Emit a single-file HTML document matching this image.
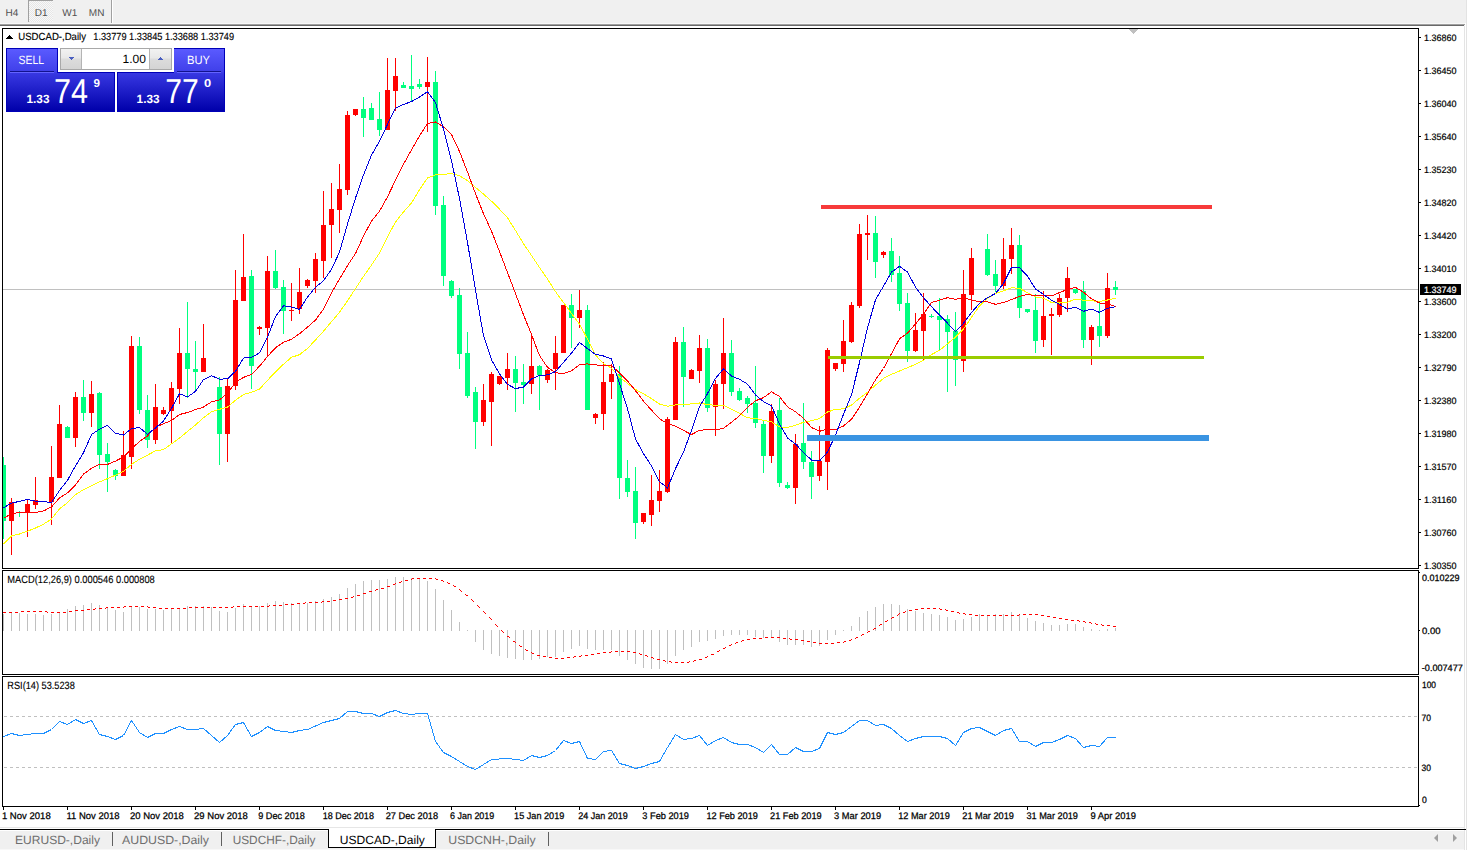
<!DOCTYPE html>
<html><head><meta charset="utf-8"><title>USDCAD-,Daily</title>
<style>html,body{margin:0;padding:0;width:1467px;height:850px;overflow:hidden;background:#f0f0f0;font-family:"Liberation Sans",sans-serif}svg{display:block}text{text-rendering:geometricPrecision}</style>
</head><body><svg width="1467" height="850" viewBox="0 0 1467 850" shape-rendering="crispEdges" font-family="Liberation Sans, sans-serif"><rect x="0" y="0" width="1467" height="23" fill="#f0f0f0"/>
<rect x="0" y="23" width="1465" height="1" fill="#f8f8f8"/>
<rect x="0" y="24" width="1465" height="1" fill="#a0a0a0"/>
<rect x="0" y="25" width="1464" height="1" fill="#696969"/>
<rect x="1465" y="23" width="1" height="4" fill="#ffffff"/>
<rect x="1466" y="0" width="1" height="850" fill="#e3e3e3"/>
<defs><pattern id="chk" width="2" height="2" patternUnits="userSpaceOnUse"><rect width="2" height="2" fill="#f8f8f8"/><rect width="1" height="1" fill="#e6e6e6"/><rect x="1" y="1" width="1" height="1" fill="#e6e6e6"/></pattern><linearGradient id="gtab" x1="0" y1="0" x2="0" y2="1"><stop offset="0" stop-color="#5a5aff"/><stop offset="1" stop-color="#3e3ee8"/></linearGradient><linearGradient id="gpan" x1="0" y1="0" x2="0" y2="1"><stop offset="0" stop-color="#3838e2"/><stop offset="1" stop-color="#0000aa"/></linearGradient><linearGradient id="gbtn" x1="0" y1="0" x2="0" y2="1"><stop offset="0" stop-color="#f2f2f2"/><stop offset="0.45" stop-color="#e8e8e8"/><stop offset="0.5" stop-color="#dcdcdc"/><stop offset="1" stop-color="#d4d4d4"/></linearGradient></defs>
<rect x="28" y="0" width="25" height="22" fill="url(#chk)"/>
<rect x="28" y="0" width="25" height="1" fill="#a0a0a0"/>
<rect x="28" y="0" width="1" height="22" fill="#a0a0a0"/>
<rect x="111" y="0" width="1" height="23" fill="#a0a0a0"/>
<rect x="112" y="0" width="1" height="23" fill="#ffffff"/>
<text x="5.6" y="16" font-size="10" fill="#505050" font-weight="normal" text-anchor="start">H4</text>
<text x="34.8" y="16" font-size="10" fill="#505050" font-weight="normal" text-anchor="start">D1</text>
<text x="62.2" y="16" font-size="10" fill="#505050" font-weight="normal" text-anchor="start">W1</text>
<text x="88.8" y="16" font-size="10" fill="#505050" font-weight="normal" text-anchor="start">MN</text>
<rect x="0" y="26" width="1464" height="801" fill="#ffffff"/>
<rect x="2" y="28" width="1417" height="1" fill="#000"/>
<rect x="2" y="568" width="1417" height="1" fill="#000"/>
<rect x="2" y="28" width="1" height="541" fill="#000"/>
<rect x="1418" y="28" width="1" height="541" fill="#000"/>
<rect x="2" y="570" width="1417" height="1" fill="#000"/>
<rect x="2" y="674" width="1417" height="1" fill="#000"/>
<rect x="2" y="570" width="1" height="105" fill="#000"/>
<rect x="1418" y="570" width="1" height="105" fill="#000"/>
<rect x="2" y="676" width="1417" height="1" fill="#000"/>
<rect x="2" y="806" width="1417" height="1" fill="#000"/>
<rect x="2" y="676" width="1" height="131" fill="#000"/>
<rect x="1418" y="676" width="1" height="131" fill="#000"/>
<polygon points="1129,29 1138,29 1133.5,34" fill="#c0c0c0"/>
<rect x="1419" y="37" width="2" height="1" fill="#000"/>
<text x="1424" y="40.5" font-size="9.2" fill="#000" font-weight="normal" text-anchor="start" textLength="32.5" lengthAdjust="spacingAndGlyphs" stroke="#000" stroke-width="0.2">1.36860</text>
<rect x="1419" y="70" width="2" height="1" fill="#000"/>
<text x="1424" y="73.5" font-size="9.2" fill="#000" font-weight="normal" text-anchor="start" textLength="32.5" lengthAdjust="spacingAndGlyphs" stroke="#000" stroke-width="0.2">1.36450</text>
<rect x="1419" y="103" width="2" height="1" fill="#000"/>
<text x="1424" y="106.5" font-size="9.2" fill="#000" font-weight="normal" text-anchor="start" textLength="32.5" lengthAdjust="spacingAndGlyphs" stroke="#000" stroke-width="0.2">1.36040</text>
<rect x="1419" y="136" width="2" height="1" fill="#000"/>
<text x="1424" y="139.5" font-size="9.2" fill="#000" font-weight="normal" text-anchor="start" textLength="32.5" lengthAdjust="spacingAndGlyphs" stroke="#000" stroke-width="0.2">1.35640</text>
<rect x="1419" y="169" width="2" height="1" fill="#000"/>
<text x="1424" y="172.5" font-size="9.2" fill="#000" font-weight="normal" text-anchor="start" textLength="32.5" lengthAdjust="spacingAndGlyphs" stroke="#000" stroke-width="0.2">1.35230</text>
<rect x="1419" y="202" width="2" height="1" fill="#000"/>
<text x="1424" y="205.5" font-size="9.2" fill="#000" font-weight="normal" text-anchor="start" textLength="32.5" lengthAdjust="spacingAndGlyphs" stroke="#000" stroke-width="0.2">1.34820</text>
<rect x="1419" y="235" width="2" height="1" fill="#000"/>
<text x="1424" y="238.5" font-size="9.2" fill="#000" font-weight="normal" text-anchor="start" textLength="32.5" lengthAdjust="spacingAndGlyphs" stroke="#000" stroke-width="0.2">1.34420</text>
<rect x="1419" y="268" width="2" height="1" fill="#000"/>
<text x="1424" y="271.5" font-size="9.2" fill="#000" font-weight="normal" text-anchor="start" textLength="32.5" lengthAdjust="spacingAndGlyphs" stroke="#000" stroke-width="0.2">1.34010</text>
<rect x="1419" y="301" width="2" height="1" fill="#000"/>
<text x="1424" y="304.5" font-size="9.2" fill="#000" font-weight="normal" text-anchor="start" textLength="32.5" lengthAdjust="spacingAndGlyphs" stroke="#000" stroke-width="0.2">1.33600</text>
<rect x="1419" y="334" width="2" height="1" fill="#000"/>
<text x="1424" y="337.5" font-size="9.2" fill="#000" font-weight="normal" text-anchor="start" textLength="32.5" lengthAdjust="spacingAndGlyphs" stroke="#000" stroke-width="0.2">1.33200</text>
<rect x="1419" y="367" width="2" height="1" fill="#000"/>
<text x="1424" y="370.5" font-size="9.2" fill="#000" font-weight="normal" text-anchor="start" textLength="32.5" lengthAdjust="spacingAndGlyphs" stroke="#000" stroke-width="0.2">1.32790</text>
<rect x="1419" y="400" width="2" height="1" fill="#000"/>
<text x="1424" y="403.5" font-size="9.2" fill="#000" font-weight="normal" text-anchor="start" textLength="32.5" lengthAdjust="spacingAndGlyphs" stroke="#000" stroke-width="0.2">1.32380</text>
<rect x="1419" y="433" width="2" height="1" fill="#000"/>
<text x="1424" y="436.5" font-size="9.2" fill="#000" font-weight="normal" text-anchor="start" textLength="32.5" lengthAdjust="spacingAndGlyphs" stroke="#000" stroke-width="0.2">1.31980</text>
<rect x="1419" y="466" width="2" height="1" fill="#000"/>
<text x="1424" y="469.5" font-size="9.2" fill="#000" font-weight="normal" text-anchor="start" textLength="32.5" lengthAdjust="spacingAndGlyphs" stroke="#000" stroke-width="0.2">1.31570</text>
<rect x="1419" y="499" width="2" height="1" fill="#000"/>
<text x="1424" y="502.5" font-size="9.2" fill="#000" font-weight="normal" text-anchor="start" textLength="32.5" lengthAdjust="spacingAndGlyphs" stroke="#000" stroke-width="0.2">1.31160</text>
<rect x="1419" y="532" width="2" height="1" fill="#000"/>
<text x="1424" y="535.5" font-size="9.2" fill="#000" font-weight="normal" text-anchor="start" textLength="32.5" lengthAdjust="spacingAndGlyphs" stroke="#000" stroke-width="0.2">1.30760</text>
<rect x="1419" y="565" width="2" height="1" fill="#000"/>
<text x="1424" y="568.5" font-size="9.2" fill="#000" font-weight="normal" text-anchor="start" textLength="32.5" lengthAdjust="spacingAndGlyphs" stroke="#000" stroke-width="0.2">1.30350</text>
<rect x="3" y="289" width="1415" height="1" fill="#c0c0c0"/>
<rect x="3" y="457" width="1" height="82" fill="#00ff7f"/>
<rect x="3" y="465" width="3" height="56" fill="#00ff7f"/>
<rect x="11" y="498" width="1" height="57" fill="#ff0000"/>
<rect x="9" y="502" width="5" height="19" fill="#ff0000"/>
<rect x="19" y="511" width="1" height="6" fill="#00ff7f"/>
<rect x="17" y="512" width="5" height="1" fill="#00ff7f"/>
<rect x="27" y="499" width="1" height="38" fill="#ff0000"/>
<rect x="25" y="504" width="5" height="8" fill="#ff0000"/>
<rect x="35" y="477" width="1" height="32" fill="#ff0000"/>
<rect x="33" y="500" width="5" height="5" fill="#ff0000"/>
<rect x="51" y="446" width="1" height="79" fill="#ff0000"/>
<rect x="49" y="477" width="5" height="25" fill="#ff0000"/>
<rect x="59" y="405" width="1" height="73" fill="#ff0000"/>
<rect x="57" y="424" width="5" height="54" fill="#ff0000"/>
<rect x="67" y="426" width="1" height="12" fill="#00ff7f"/>
<rect x="65" y="427" width="5" height="11" fill="#00ff7f"/>
<rect x="75" y="392" width="1" height="55" fill="#ff0000"/>
<rect x="73" y="397" width="5" height="41" fill="#ff0000"/>
<rect x="83" y="380" width="1" height="41" fill="#00ff7f"/>
<rect x="81" y="397" width="5" height="16" fill="#00ff7f"/>
<rect x="91" y="381" width="1" height="46" fill="#ff0000"/>
<rect x="89" y="394" width="5" height="19" fill="#ff0000"/>
<rect x="99" y="392" width="1" height="77" fill="#00ff7f"/>
<rect x="97" y="393" width="5" height="62" fill="#00ff7f"/>
<rect x="107" y="443" width="1" height="49" fill="#00ff7f"/>
<rect x="105" y="454" width="5" height="8" fill="#00ff7f"/>
<rect x="115" y="469" width="1" height="11" fill="#00ff7f"/>
<rect x="113" y="470" width="5" height="6" fill="#00ff7f"/>
<rect x="123" y="431" width="1" height="45" fill="#ff0000"/>
<rect x="121" y="455" width="5" height="21" fill="#ff0000"/>
<rect x="131" y="336" width="1" height="133" fill="#ff0000"/>
<rect x="129" y="346" width="5" height="111" fill="#ff0000"/>
<rect x="139" y="337" width="1" height="77" fill="#00ff7f"/>
<rect x="137" y="346" width="5" height="64" fill="#00ff7f"/>
<rect x="147" y="395" width="1" height="53" fill="#00ff7f"/>
<rect x="145" y="410" width="5" height="30" fill="#00ff7f"/>
<rect x="155" y="384" width="1" height="60" fill="#ff0000"/>
<rect x="153" y="407" width="5" height="33" fill="#ff0000"/>
<rect x="163" y="407" width="1" height="8" fill="#ff0000"/>
<rect x="161" y="410" width="5" height="4" fill="#ff0000"/>
<rect x="171" y="382" width="1" height="61" fill="#ff0000"/>
<rect x="169" y="388" width="5" height="23" fill="#ff0000"/>
<rect x="179" y="328" width="1" height="76" fill="#ff0000"/>
<rect x="177" y="353" width="5" height="36" fill="#ff0000"/>
<rect x="187" y="302" width="1" height="96" fill="#00ff7f"/>
<rect x="185" y="353" width="5" height="16" fill="#00ff7f"/>
<rect x="195" y="341" width="1" height="49" fill="#00ff7f"/>
<rect x="193" y="369" width="5" height="3" fill="#00ff7f"/>
<rect x="203" y="324" width="1" height="48" fill="#ff0000"/>
<rect x="201" y="358" width="5" height="14" fill="#ff0000"/>
<rect x="219" y="377" width="1" height="88" fill="#00ff7f"/>
<rect x="217" y="387" width="5" height="47" fill="#00ff7f"/>
<rect x="227" y="378" width="1" height="84" fill="#ff0000"/>
<rect x="225" y="386" width="5" height="48" fill="#ff0000"/>
<rect x="235" y="270" width="1" height="120" fill="#ff0000"/>
<rect x="233" y="300" width="5" height="86" fill="#ff0000"/>
<rect x="243" y="234" width="1" height="67" fill="#ff0000"/>
<rect x="241" y="277" width="5" height="24" fill="#ff0000"/>
<rect x="251" y="270" width="1" height="119" fill="#00ff7f"/>
<rect x="249" y="276" width="5" height="90" fill="#00ff7f"/>
<rect x="259" y="326" width="1" height="9" fill="#ff0000"/>
<rect x="257" y="327" width="5" height="2" fill="#ff0000"/>
<rect x="267" y="256" width="1" height="101" fill="#ff0000"/>
<rect x="265" y="271" width="5" height="57" fill="#ff0000"/>
<rect x="275" y="250" width="1" height="39" fill="#00ff7f"/>
<rect x="273" y="271" width="5" height="17" fill="#00ff7f"/>
<rect x="283" y="280" width="1" height="54" fill="#00ff7f"/>
<rect x="281" y="287" width="5" height="24" fill="#00ff7f"/>
<rect x="291" y="283" width="1" height="38" fill="#ff0000"/>
<rect x="289" y="310" width="5" height="1" fill="#ff0000"/>
<rect x="299" y="268" width="1" height="46" fill="#ff0000"/>
<rect x="297" y="292" width="5" height="17" fill="#ff0000"/>
<rect x="307" y="279" width="1" height="9" fill="#ff0000"/>
<rect x="305" y="280" width="5" height="6" fill="#ff0000"/>
<rect x="315" y="253" width="1" height="40" fill="#ff0000"/>
<rect x="313" y="259" width="5" height="22" fill="#ff0000"/>
<rect x="323" y="191" width="1" height="87" fill="#ff0000"/>
<rect x="321" y="225" width="5" height="36" fill="#ff0000"/>
<rect x="331" y="183" width="1" height="75" fill="#ff0000"/>
<rect x="329" y="209" width="5" height="16" fill="#ff0000"/>
<rect x="339" y="164" width="1" height="69" fill="#ff0000"/>
<rect x="337" y="189" width="5" height="21" fill="#ff0000"/>
<rect x="347" y="111" width="1" height="84" fill="#ff0000"/>
<rect x="345" y="115" width="5" height="75" fill="#ff0000"/>
<rect x="355" y="109" width="1" height="7" fill="#ff0000"/>
<rect x="353" y="109" width="5" height="6" fill="#ff0000"/>
<rect x="363" y="97" width="1" height="40" fill="#00ff7f"/>
<rect x="361" y="109" width="5" height="9" fill="#00ff7f"/>
<rect x="371" y="103" width="1" height="17" fill="#00ff7f"/>
<rect x="369" y="108" width="5" height="12" fill="#00ff7f"/>
<rect x="379" y="92" width="1" height="44" fill="#00ff7f"/>
<rect x="377" y="119" width="5" height="11" fill="#00ff7f"/>
<rect x="387" y="58" width="1" height="72" fill="#ff0000"/>
<rect x="385" y="90" width="5" height="40" fill="#ff0000"/>
<rect x="395" y="58" width="1" height="53" fill="#ff0000"/>
<rect x="393" y="76" width="5" height="15" fill="#ff0000"/>
<rect x="403" y="82" width="1" height="6" fill="#00ff7f"/>
<rect x="401" y="85" width="5" height="3" fill="#00ff7f"/>
<rect x="411" y="55" width="1" height="46" fill="#00ff7f"/>
<rect x="409" y="86" width="5" height="3" fill="#00ff7f"/>
<rect x="419" y="79" width="1" height="10" fill="#00ff7f"/>
<rect x="417" y="84" width="5" height="3" fill="#00ff7f"/>
<rect x="427" y="57" width="1" height="75" fill="#ff0000"/>
<rect x="425" y="82" width="5" height="5" fill="#ff0000"/>
<rect x="435" y="71" width="1" height="144" fill="#00ff7f"/>
<rect x="433" y="82" width="5" height="124" fill="#00ff7f"/>
<rect x="443" y="196" width="1" height="90" fill="#00ff7f"/>
<rect x="441" y="205" width="5" height="71" fill="#00ff7f"/>
<rect x="451" y="280" width="1" height="18" fill="#00ff7f"/>
<rect x="449" y="281" width="5" height="15" fill="#00ff7f"/>
<rect x="459" y="288" width="1" height="81" fill="#00ff7f"/>
<rect x="457" y="295" width="5" height="59" fill="#00ff7f"/>
<rect x="467" y="332" width="1" height="66" fill="#00ff7f"/>
<rect x="465" y="353" width="5" height="43" fill="#00ff7f"/>
<rect x="475" y="387" width="1" height="62" fill="#00ff7f"/>
<rect x="473" y="392" width="5" height="30" fill="#00ff7f"/>
<rect x="483" y="384" width="1" height="42" fill="#ff0000"/>
<rect x="481" y="400" width="5" height="22" fill="#ff0000"/>
<rect x="491" y="372" width="1" height="74" fill="#ff0000"/>
<rect x="489" y="374" width="5" height="28" fill="#ff0000"/>
<rect x="499" y="376" width="1" height="9" fill="#ff0000"/>
<rect x="497" y="376" width="5" height="8" fill="#ff0000"/>
<rect x="507" y="353" width="1" height="37" fill="#ff0000"/>
<rect x="505" y="369" width="5" height="9" fill="#ff0000"/>
<rect x="515" y="356" width="1" height="56" fill="#00ff7f"/>
<rect x="513" y="369" width="5" height="14" fill="#00ff7f"/>
<rect x="523" y="364" width="1" height="40" fill="#00ff7f"/>
<rect x="521" y="382" width="5" height="3" fill="#00ff7f"/>
<rect x="531" y="334" width="1" height="60" fill="#ff0000"/>
<rect x="529" y="366" width="5" height="18" fill="#ff0000"/>
<rect x="539" y="365" width="1" height="45" fill="#00ff7f"/>
<rect x="537" y="366" width="5" height="9" fill="#00ff7f"/>
<rect x="547" y="369" width="1" height="14" fill="#ff0000"/>
<rect x="545" y="370" width="5" height="10" fill="#ff0000"/>
<rect x="555" y="336" width="1" height="54" fill="#ff0000"/>
<rect x="553" y="353" width="5" height="16" fill="#ff0000"/>
<rect x="563" y="305" width="1" height="48" fill="#ff0000"/>
<rect x="561" y="305" width="5" height="48" fill="#ff0000"/>
<rect x="571" y="294" width="1" height="54" fill="#00ff7f"/>
<rect x="569" y="305" width="5" height="13" fill="#00ff7f"/>
<rect x="579" y="290" width="1" height="38" fill="#ff0000"/>
<rect x="577" y="310" width="5" height="8" fill="#ff0000"/>
<rect x="587" y="305" width="1" height="105" fill="#00ff7f"/>
<rect x="585" y="310" width="5" height="100" fill="#00ff7f"/>
<rect x="595" y="413" width="1" height="11" fill="#ff0000"/>
<rect x="593" y="414" width="5" height="4" fill="#ff0000"/>
<rect x="603" y="362" width="1" height="68" fill="#ff0000"/>
<rect x="601" y="382" width="5" height="32" fill="#ff0000"/>
<rect x="611" y="364" width="1" height="35" fill="#ff0000"/>
<rect x="609" y="374" width="5" height="8" fill="#ff0000"/>
<rect x="619" y="366" width="1" height="133" fill="#00ff7f"/>
<rect x="617" y="374" width="5" height="104" fill="#00ff7f"/>
<rect x="627" y="460" width="1" height="37" fill="#00ff7f"/>
<rect x="625" y="478" width="5" height="14" fill="#00ff7f"/>
<rect x="635" y="467" width="1" height="72" fill="#00ff7f"/>
<rect x="633" y="491" width="5" height="32" fill="#00ff7f"/>
<rect x="643" y="513" width="1" height="11" fill="#ff0000"/>
<rect x="641" y="513" width="5" height="9" fill="#ff0000"/>
<rect x="651" y="475" width="1" height="51" fill="#ff0000"/>
<rect x="649" y="500" width="5" height="15" fill="#ff0000"/>
<rect x="659" y="470" width="1" height="42" fill="#ff0000"/>
<rect x="657" y="491" width="5" height="10" fill="#ff0000"/>
<rect x="667" y="417" width="1" height="76" fill="#ff0000"/>
<rect x="665" y="419" width="5" height="73" fill="#ff0000"/>
<rect x="675" y="337" width="1" height="83" fill="#ff0000"/>
<rect x="673" y="342" width="5" height="78" fill="#ff0000"/>
<rect x="683" y="327" width="1" height="80" fill="#00ff7f"/>
<rect x="681" y="342" width="5" height="35" fill="#00ff7f"/>
<rect x="691" y="369" width="1" height="10" fill="#ff0000"/>
<rect x="689" y="370" width="5" height="9" fill="#ff0000"/>
<rect x="699" y="335" width="1" height="48" fill="#ff0000"/>
<rect x="697" y="348" width="5" height="23" fill="#ff0000"/>
<rect x="707" y="339" width="1" height="73" fill="#00ff7f"/>
<rect x="705" y="348" width="5" height="60" fill="#00ff7f"/>
<rect x="715" y="380" width="1" height="56" fill="#ff0000"/>
<rect x="713" y="384" width="5" height="23" fill="#ff0000"/>
<rect x="723" y="318" width="1" height="91" fill="#ff0000"/>
<rect x="721" y="353" width="5" height="31" fill="#ff0000"/>
<rect x="731" y="340" width="1" height="56" fill="#00ff7f"/>
<rect x="729" y="353" width="5" height="39" fill="#00ff7f"/>
<rect x="739" y="388" width="1" height="13" fill="#00ff7f"/>
<rect x="737" y="391" width="5" height="9" fill="#00ff7f"/>
<rect x="747" y="396" width="1" height="17" fill="#00ff7f"/>
<rect x="745" y="398" width="5" height="6" fill="#00ff7f"/>
<rect x="755" y="366" width="1" height="62" fill="#00ff7f"/>
<rect x="753" y="403" width="5" height="20" fill="#00ff7f"/>
<rect x="763" y="421" width="1" height="52" fill="#00ff7f"/>
<rect x="761" y="424" width="5" height="32" fill="#00ff7f"/>
<rect x="771" y="404" width="1" height="59" fill="#ff0000"/>
<rect x="769" y="411" width="5" height="45" fill="#ff0000"/>
<rect x="779" y="398" width="1" height="89" fill="#00ff7f"/>
<rect x="777" y="410" width="5" height="73" fill="#00ff7f"/>
<rect x="787" y="482" width="1" height="7" fill="#00ff7f"/>
<rect x="785" y="485" width="5" height="3" fill="#00ff7f"/>
<rect x="795" y="434" width="1" height="70" fill="#ff0000"/>
<rect x="793" y="444" width="5" height="44" fill="#ff0000"/>
<rect x="803" y="403" width="1" height="66" fill="#00ff7f"/>
<rect x="801" y="443" width="5" height="19" fill="#00ff7f"/>
<rect x="811" y="451" width="1" height="48" fill="#00ff7f"/>
<rect x="809" y="462" width="5" height="15" fill="#00ff7f"/>
<rect x="819" y="426" width="1" height="55" fill="#ff0000"/>
<rect x="817" y="461" width="5" height="15" fill="#ff0000"/>
<rect x="827" y="348" width="1" height="142" fill="#ff0000"/>
<rect x="825" y="350" width="5" height="112" fill="#ff0000"/>
<rect x="835" y="363" width="1" height="8" fill="#ff0000"/>
<rect x="833" y="363" width="5" height="6" fill="#ff0000"/>
<rect x="843" y="320" width="1" height="52" fill="#ff0000"/>
<rect x="841" y="341" width="5" height="23" fill="#ff0000"/>
<rect x="851" y="302" width="1" height="41" fill="#ff0000"/>
<rect x="849" y="305" width="5" height="37" fill="#ff0000"/>
<rect x="859" y="224" width="1" height="84" fill="#ff0000"/>
<rect x="857" y="234" width="5" height="72" fill="#ff0000"/>
<rect x="867" y="215" width="1" height="45" fill="#ff0000"/>
<rect x="865" y="233" width="5" height="2" fill="#ff0000"/>
<rect x="875" y="216" width="1" height="62" fill="#00ff7f"/>
<rect x="873" y="233" width="5" height="29" fill="#00ff7f"/>
<rect x="883" y="251" width="1" height="7" fill="#ff0000"/>
<rect x="881" y="252" width="5" height="3" fill="#ff0000"/>
<rect x="891" y="238" width="1" height="44" fill="#00ff7f"/>
<rect x="889" y="251" width="5" height="24" fill="#00ff7f"/>
<rect x="899" y="256" width="1" height="55" fill="#00ff7f"/>
<rect x="897" y="273" width="5" height="31" fill="#00ff7f"/>
<rect x="907" y="293" width="1" height="69" fill="#00ff7f"/>
<rect x="905" y="303" width="5" height="48" fill="#00ff7f"/>
<rect x="915" y="313" width="1" height="39" fill="#ff0000"/>
<rect x="913" y="330" width="5" height="21" fill="#ff0000"/>
<rect x="923" y="293" width="1" height="67" fill="#ff0000"/>
<rect x="921" y="314" width="5" height="17" fill="#ff0000"/>
<rect x="931" y="314" width="1" height="4" fill="#00ff7f"/>
<rect x="929" y="316" width="5" height="1" fill="#00ff7f"/>
<rect x="939" y="298" width="1" height="52" fill="#00ff7f"/>
<rect x="937" y="316" width="5" height="4" fill="#00ff7f"/>
<rect x="947" y="315" width="1" height="77" fill="#00ff7f"/>
<rect x="945" y="319" width="5" height="13" fill="#00ff7f"/>
<rect x="955" y="312" width="1" height="74" fill="#00ff7f"/>
<rect x="953" y="331" width="5" height="29" fill="#00ff7f"/>
<rect x="963" y="270" width="1" height="102" fill="#ff0000"/>
<rect x="961" y="294" width="5" height="67" fill="#ff0000"/>
<rect x="971" y="248" width="1" height="62" fill="#ff0000"/>
<rect x="969" y="258" width="5" height="37" fill="#ff0000"/>
<rect x="987" y="234" width="1" height="42" fill="#00ff7f"/>
<rect x="985" y="249" width="5" height="26" fill="#00ff7f"/>
<rect x="995" y="260" width="1" height="32" fill="#00ff7f"/>
<rect x="993" y="274" width="5" height="12" fill="#00ff7f"/>
<rect x="1003" y="238" width="1" height="51" fill="#ff0000"/>
<rect x="1001" y="259" width="5" height="27" fill="#ff0000"/>
<rect x="1011" y="228" width="1" height="46" fill="#ff0000"/>
<rect x="1009" y="245" width="5" height="14" fill="#ff0000"/>
<rect x="1019" y="235" width="1" height="83" fill="#00ff7f"/>
<rect x="1017" y="245" width="5" height="63" fill="#00ff7f"/>
<rect x="1027" y="309" width="1" height="4" fill="#00ff7f"/>
<rect x="1025" y="309" width="5" height="3" fill="#00ff7f"/>
<rect x="1035" y="294" width="1" height="59" fill="#00ff7f"/>
<rect x="1033" y="310" width="5" height="31" fill="#00ff7f"/>
<rect x="1043" y="291" width="1" height="56" fill="#ff0000"/>
<rect x="1041" y="316" width="5" height="24" fill="#ff0000"/>
<rect x="1051" y="308" width="1" height="47" fill="#ff0000"/>
<rect x="1049" y="314" width="5" height="2" fill="#ff0000"/>
<rect x="1059" y="294" width="1" height="23" fill="#ff0000"/>
<rect x="1057" y="298" width="5" height="17" fill="#ff0000"/>
<rect x="1067" y="267" width="1" height="45" fill="#ff0000"/>
<rect x="1065" y="278" width="5" height="20" fill="#ff0000"/>
<rect x="1075" y="289" width="1" height="5" fill="#00ff7f"/>
<rect x="1073" y="289" width="5" height="4" fill="#00ff7f"/>
<rect x="1083" y="281" width="1" height="67" fill="#00ff7f"/>
<rect x="1081" y="291" width="5" height="49" fill="#00ff7f"/>
<rect x="1091" y="325" width="1" height="40" fill="#ff0000"/>
<rect x="1089" y="327" width="5" height="13" fill="#ff0000"/>
<rect x="1099" y="303" width="1" height="44" fill="#00ff7f"/>
<rect x="1097" y="326" width="5" height="10" fill="#00ff7f"/>
<rect x="1107" y="273" width="1" height="65" fill="#ff0000"/>
<rect x="1105" y="288" width="5" height="48" fill="#ff0000"/>
<rect x="1115" y="281" width="1" height="14" fill="#00ff7f"/>
<rect x="1113" y="287" width="5" height="3" fill="#00ff7f"/>
<polyline points="3.5,544.0 11.5,535.9 19.5,534.0 27.5,531.2 35.5,528.0 43.5,524.2 51.5,519.0 59.5,508.8 67.5,502.6 75.5,494.7 83.5,489.6 91.5,485.6 99.5,481.9 107.5,478.6 115.5,475.1 123.5,471.3 131.5,464.4 139.5,459.2 147.5,455.1 155.5,450.9 163.5,449.6 171.5,443.9 179.5,438.1 187.5,431.5 195.5,424.9 203.5,417.8 211.5,411.7 219.5,409.3 227.5,407.1 235.5,400.2 243.5,394.5 251.5,392.3 259.5,389.1 267.5,380.3 275.5,372.0 283.5,364.2 291.5,357.3 299.5,354.7 307.5,348.5 315.5,339.9 323.5,331.2 331.5,321.7 339.5,312.2 347.5,300.9 355.5,288.5 363.5,276.4 371.5,265.0 379.5,253.1 387.5,236.8 395.5,222.0 403.5,211.9 411.5,203.0 419.5,189.7 427.5,178.0 435.5,174.9 443.5,174.3 451.5,173.6 459.5,175.7 467.5,180.7 475.5,187.4 483.5,194.1 491.5,201.2 499.5,209.2 507.5,217.8 515.5,230.5 523.5,243.7 531.5,255.5 539.5,267.6 547.5,279.0 555.5,291.6 563.5,302.5 571.5,313.4 579.5,324.0 587.5,339.3 595.5,355.1 603.5,363.5 611.5,368.2 619.5,376.9 627.5,383.4 635.5,389.5 643.5,393.8 651.5,398.6 659.5,404.1 667.5,406.2 675.5,404.9 683.5,404.6 691.5,403.9 699.5,403.0 707.5,404.6 715.5,405.3 723.5,405.3 731.5,409.4 739.5,413.3 747.5,417.8 755.5,418.4 763.5,420.4 771.5,421.8 779.5,427.0 787.5,427.5 795.5,425.2 803.5,422.3 811.5,420.6 819.5,418.7 827.5,412.0 835.5,409.3 843.5,408.9 851.5,405.1 859.5,398.2 867.5,392.4 875.5,385.1 883.5,378.4 891.5,374.3 899.5,371.0 907.5,367.7 915.5,364.4 923.5,360.3 931.5,354.5 939.5,350.4 947.5,343.8 955.5,337.2 963.5,329.0 971.5,317.4 979.5,305.9 987.5,298.5 995.5,293.5 1003.5,290.8 1011.5,287.7 1019.5,288.4 1027.5,292.6 1035.5,296.9 1043.5,298.3 1051.5,302.5 1059.5,303.0 1067.5,302.1 1075.5,299.2 1083.5,300.2 1091.5,300.7 1099.5,301.6 1107.5,300.0 1115.5,298.3" fill="none" stroke="#ffff00" stroke-width="1"/>
<polyline points="3.5,518.2 11.5,513.9 19.5,512.4 27.5,512.4 35.5,512.4 43.5,511.0 51.5,506.9 59.5,497.9 67.5,492.9 75.5,484.8 83.5,474.1 91.5,468.4 99.5,464.2 107.5,464.4 115.5,461.1 123.5,457.0 131.5,449.0 139.5,441.4 147.5,436.0 155.5,427.0 163.5,423.8 171.5,420.5 179.5,414.5 187.5,412.5 195.5,409.6 203.5,407.1 211.5,401.8 219.5,399.9 227.5,393.4 235.5,382.4 243.5,377.4 251.5,374.3 259.5,366.2 267.5,356.5 275.5,347.8 283.5,342.3 291.5,339.2 299.5,333.7 307.5,327.1 315.5,320.1 323.5,309.0 331.5,292.9 339.5,278.9 347.5,265.6 355.5,253.6 363.5,235.9 371.5,221.1 379.5,211.1 387.5,196.9 395.5,180.1 403.5,164.3 411.5,149.8 419.5,136.0 427.5,123.4 435.5,122.0 443.5,126.8 451.5,134.4 459.5,151.5 467.5,172.0 475.5,193.7 483.5,213.7 491.5,231.1 499.5,251.6 507.5,272.5 515.5,293.6 523.5,314.7 531.5,334.6 539.5,355.6 547.5,367.3 555.5,372.8 563.5,373.4 571.5,370.9 579.5,364.7 587.5,363.9 595.5,364.9 603.5,365.4 611.5,365.3 619.5,373.1 627.5,380.9 635.5,390.7 643.5,401.2 651.5,410.1 659.5,418.8 667.5,423.5 675.5,426.1 683.5,430.4 691.5,434.6 699.5,430.2 707.5,429.8 715.5,429.9 723.5,428.4 731.5,422.3 739.5,415.7 747.5,407.2 755.5,400.8 763.5,397.6 771.5,391.9 779.5,396.5 787.5,406.9 795.5,411.7 803.5,418.3 811.5,427.5 819.5,431.3 827.5,428.9 835.5,429.6 843.5,426.0 851.5,419.2 859.5,407.1 867.5,393.6 875.5,379.8 883.5,368.5 891.5,353.7 899.5,338.8 907.5,333.1 915.5,324.0 923.5,314.1 931.5,302.6 939.5,300.1 947.5,297.7 955.5,299.3 963.5,297.7 971.5,300.1 979.5,301.8 987.5,301.8 995.5,304.3 1003.5,302.5 1011.5,299.6 1019.5,296.4 1027.5,294.3 1035.5,295.9 1043.5,295.9 1051.5,295.9 1059.5,292.6 1067.5,289.4 1075.5,287.5 1083.5,292.2 1091.5,298.8 1099.5,303.0 1107.5,303.5 1115.5,306.6" fill="none" stroke="#ff0000" stroke-width="1"/>
<polyline points="3.5,507.7 11.5,503.2 19.5,501.3 27.5,499.4 35.5,501.1 43.5,501.6 51.5,502.6 59.5,490.4 67.5,480.3 75.5,465.9 83.5,452.6 91.5,434.6 99.5,429.1 107.5,425.3 115.5,433.2 123.5,435.1 131.5,428.6 139.5,427.5 147.5,434.3 155.5,427.9 163.5,421.0 171.5,408.4 179.5,393.7 187.5,396.9 195.5,391.4 203.5,379.6 211.5,375.7 219.5,379.1 227.5,378.9 235.5,371.3 243.5,358.1 251.5,357.3 259.5,352.9 267.5,337.3 275.5,316.4 283.5,305.7 291.5,307.1 299.5,309.3 307.5,297.0 315.5,287.3 323.5,280.7 331.5,269.4 339.5,252.0 347.5,224.1 355.5,198.0 363.5,174.9 371.5,155.0 379.5,141.4 387.5,124.4 395.5,108.3 403.5,104.4 411.5,101.6 419.5,97.1 427.5,91.7 435.5,102.6 443.5,129.1 451.5,160.6 459.5,198.6 467.5,242.4 475.5,290.3 483.5,335.7 491.5,359.7 499.5,374.0 507.5,384.4 515.5,388.6 523.5,387.0 531.5,379.0 539.5,375.4 547.5,374.9 555.5,371.6 563.5,362.4 571.5,353.1 579.5,342.4 587.5,348.7 595.5,354.3 603.5,356.0 611.5,359.0 619.5,383.7 627.5,408.6 635.5,439.0 643.5,453.7 651.5,466.0 659.5,481.6 667.5,488.0 675.5,468.6 683.5,452.1 691.5,430.3 699.5,406.7 707.5,393.6 715.5,378.3 723.5,368.9 731.5,376.0 739.5,379.3 747.5,384.1 755.5,394.9 763.5,401.7 771.5,405.6 779.5,424.1 787.5,437.9 795.5,444.1 803.5,452.4 811.5,460.1 819.5,460.9 827.5,452.1 835.5,435.0 843.5,414.3 851.5,394.7 859.5,362.5 867.5,327.9 875.5,299.8 883.5,286.1 891.5,272.1 899.5,266.4 907.5,272.1 915.5,287.0 923.5,297.7 931.5,306.7 939.5,315.0 947.5,323.2 955.5,331.4 963.5,323.2 971.5,312.5 979.5,303.4 987.5,297.7 995.5,293.5 1003.5,283.5 1011.5,267.5 1019.5,267.7 1027.5,276.2 1035.5,288.9 1043.5,294.5 1051.5,300.2 1059.5,304.4 1067.5,309.1 1075.5,307.2 1083.5,311.3 1091.5,309.1 1099.5,312.4 1107.5,308.2 1115.5,306.8" fill="none" stroke="#0000dd" stroke-width="1"/>
<rect x="821" y="205" width="391" height="4" fill="#f73a3a"/>
<rect x="828" y="356" width="376" height="3" fill="#99cc00"/>
<rect x="807" y="435" width="402" height="6" fill="#3a94e2"/>
<rect x="1420" y="284" width="41" height="11" fill="#000"/>
<text x="1424" y="292.5" font-size="9.2" fill="#fff" font-weight="normal" text-anchor="start" textLength="32.5" lengthAdjust="spacingAndGlyphs" stroke="#fff" stroke-width="0.2">1.33749</text>
<polygon points="6,39 13,39 9.5,35" fill="#000"/>
<text x="18.3" y="39.5" font-size="10.3" fill="#000" font-weight="normal" text-anchor="start" textLength="67.7" lengthAdjust="spacingAndGlyphs" stroke="#000" stroke-width="0.15">USDCAD-,Daily</text>
<text x="93.3" y="39.5" font-size="10.3" fill="#000" font-weight="normal" text-anchor="start" textLength="140.7" lengthAdjust="spacingAndGlyphs" stroke="#000" stroke-width="0.15">1.33779 1.33845 1.33688 1.33749</text>
<rect x="6" y="48" width="52" height="25" fill="#0000b8"/>
<rect x="6" y="72" width="109" height="40" fill="#0000b8"/>
<rect x="7" y="49" width="50" height="24" fill="url(#gtab)"/>
<rect x="7" y="73" width="107" height="38" fill="url(#gpan)"/>
<rect x="7" y="72" width="50" height="1" fill="#3c3ce6"/>
<rect x="10" y="71" width="44" height="1" fill="#12128e"/>
<rect x="10" y="72" width="44" height="1" fill="#6464ff"/>
<rect x="173" y="48" width="52" height="25" fill="#0000b8"/>
<rect x="117" y="72" width="108" height="40" fill="#0000b8"/>
<rect x="174" y="49" width="50" height="24" fill="url(#gtab)"/>
<rect x="118" y="73" width="106" height="38" fill="url(#gpan)"/>
<rect x="174" y="72" width="50" height="1" fill="#3c3ce6"/>
<rect x="177" y="71" width="44" height="1" fill="#12128e"/>
<rect x="177" y="72" width="44" height="1" fill="#6464ff"/>
<rect x="58" y="47" width="116" height="25" fill="#ffffff"/>
<rect x="60" y="48" width="112" height="22" fill="#a8a8a8"/>
<rect x="61" y="49" width="110" height="20" fill="#ffffff"/>
<rect x="61" y="49" width="20" height="20" fill="url(#gbtn)"/>
<rect x="81" y="49" width="1" height="20" fill="#b4b4b4"/>
<rect x="150" y="49" width="21" height="20" fill="url(#gbtn)"/>
<rect x="149" y="49" width="1" height="20" fill="#b4b4b4"/>
<polygon points="68,57 74,57 71,60" fill="#4a5fc0"/>
<polygon points="157,60 163,60 160,57" fill="#4a5fc0"/>
<text x="122.5" y="63" font-size="12" fill="#000" font-weight="normal" text-anchor="start" textLength="23.4" lengthAdjust="spacingAndGlyphs">1.00</text>
<text x="18.5" y="63.8" font-size="12" fill="#fff" font-weight="normal" text-anchor="start" textLength="25.5" lengthAdjust="spacingAndGlyphs">SELL</text>
<text x="187" y="64" font-size="12" fill="#fff" font-weight="normal" text-anchor="start" textLength="23" lengthAdjust="spacingAndGlyphs">BUY</text>
<text x="26.5" y="102.8" font-size="12" fill="#fff" font-weight="bold" text-anchor="start" textLength="23" lengthAdjust="spacingAndGlyphs">1.33</text>
<text x="136.6" y="102.8" font-size="12" fill="#fff" font-weight="bold" text-anchor="start" textLength="23" lengthAdjust="spacingAndGlyphs">1.33</text>
<text x="54" y="102.8" font-size="34.5" fill="#fff" font-weight="normal" text-anchor="start" textLength="34" lengthAdjust="spacingAndGlyphs">74</text>
<text x="165.3" y="102.8" font-size="34.5" fill="#fff" font-weight="normal" text-anchor="start" textLength="33.5" lengthAdjust="spacingAndGlyphs">77</text>
<text x="93.5" y="86.8" font-size="11.5" fill="#fff" font-weight="bold" text-anchor="start" textLength="6.5" lengthAdjust="spacingAndGlyphs">9</text>
<text x="204" y="86.8" font-size="11.5" fill="#fff" font-weight="bold" text-anchor="start" textLength="7.2" lengthAdjust="spacingAndGlyphs">0</text>
<rect x="3" y="614" width="1" height="17" fill="#c0c0c0"/>
<rect x="11" y="612" width="1" height="19" fill="#c0c0c0"/>
<rect x="19" y="613" width="1" height="18" fill="#c0c0c0"/>
<rect x="27" y="614" width="1" height="17" fill="#c0c0c0"/>
<rect x="35" y="614" width="1" height="17" fill="#c0c0c0"/>
<rect x="43" y="615" width="1" height="16" fill="#c0c0c0"/>
<rect x="51" y="614" width="1" height="17" fill="#c0c0c0"/>
<rect x="59" y="612" width="1" height="19" fill="#c0c0c0"/>
<rect x="67" y="609" width="1" height="22" fill="#c0c0c0"/>
<rect x="75" y="606" width="1" height="25" fill="#c0c0c0"/>
<rect x="83" y="605" width="1" height="26" fill="#c0c0c0"/>
<rect x="91" y="603" width="1" height="28" fill="#c0c0c0"/>
<rect x="99" y="605" width="1" height="26" fill="#c0c0c0"/>
<rect x="107" y="607" width="1" height="24" fill="#c0c0c0"/>
<rect x="115" y="610" width="1" height="21" fill="#c0c0c0"/>
<rect x="123" y="612" width="1" height="19" fill="#c0c0c0"/>
<rect x="131" y="606" width="1" height="25" fill="#c0c0c0"/>
<rect x="139" y="607" width="1" height="24" fill="#c0c0c0"/>
<rect x="147" y="609" width="1" height="22" fill="#c0c0c0"/>
<rect x="155" y="609" width="1" height="22" fill="#c0c0c0"/>
<rect x="163" y="610" width="1" height="21" fill="#c0c0c0"/>
<rect x="171" y="609" width="1" height="22" fill="#c0c0c0"/>
<rect x="179" y="609" width="1" height="22" fill="#c0c0c0"/>
<rect x="187" y="606" width="1" height="25" fill="#c0c0c0"/>
<rect x="195" y="606" width="1" height="25" fill="#c0c0c0"/>
<rect x="203" y="606" width="1" height="25" fill="#c0c0c0"/>
<rect x="211" y="607" width="1" height="24" fill="#c0c0c0"/>
<rect x="219" y="611" width="1" height="20" fill="#c0c0c0"/>
<rect x="227" y="612" width="1" height="19" fill="#c0c0c0"/>
<rect x="235" y="608" width="1" height="23" fill="#c0c0c0"/>
<rect x="243" y="604" width="1" height="27" fill="#c0c0c0"/>
<rect x="251" y="606" width="1" height="25" fill="#c0c0c0"/>
<rect x="259" y="606" width="1" height="25" fill="#c0c0c0"/>
<rect x="267" y="603" width="1" height="28" fill="#c0c0c0"/>
<rect x="275" y="601" width="1" height="30" fill="#c0c0c0"/>
<rect x="283" y="602" width="1" height="29" fill="#c0c0c0"/>
<rect x="291" y="603" width="1" height="28" fill="#c0c0c0"/>
<rect x="299" y="603" width="1" height="28" fill="#c0c0c0"/>
<rect x="307" y="603" width="1" height="28" fill="#c0c0c0"/>
<rect x="315" y="601" width="1" height="30" fill="#c0c0c0"/>
<rect x="323" y="599" width="1" height="32" fill="#c0c0c0"/>
<rect x="331" y="597" width="1" height="34" fill="#c0c0c0"/>
<rect x="339" y="594" width="1" height="37" fill="#c0c0c0"/>
<rect x="347" y="588" width="1" height="43" fill="#c0c0c0"/>
<rect x="355" y="584" width="1" height="47" fill="#c0c0c0"/>
<rect x="363" y="581" width="1" height="50" fill="#c0c0c0"/>
<rect x="371" y="580" width="1" height="51" fill="#c0c0c0"/>
<rect x="379" y="580" width="1" height="51" fill="#c0c0c0"/>
<rect x="387" y="579" width="1" height="52" fill="#c0c0c0"/>
<rect x="395" y="577" width="1" height="54" fill="#c0c0c0"/>
<rect x="403" y="577" width="1" height="54" fill="#c0c0c0"/>
<rect x="411" y="578" width="1" height="53" fill="#c0c0c0"/>
<rect x="419" y="578" width="1" height="53" fill="#c0c0c0"/>
<rect x="427" y="581" width="1" height="50" fill="#c0c0c0"/>
<rect x="435" y="589" width="1" height="42" fill="#c0c0c0"/>
<rect x="443" y="600" width="1" height="31" fill="#c0c0c0"/>
<rect x="451" y="610" width="1" height="21" fill="#c0c0c0"/>
<rect x="459" y="622" width="1" height="9" fill="#c0c0c0"/>
<rect x="467" y="630" width="1" height="1" fill="#c0c0c0"/>
<rect x="475" y="630" width="1" height="12" fill="#c0c0c0"/>
<rect x="483" y="630" width="1" height="20" fill="#c0c0c0"/>
<rect x="491" y="630" width="1" height="24" fill="#c0c0c0"/>
<rect x="499" y="630" width="1" height="26" fill="#c0c0c0"/>
<rect x="507" y="630" width="1" height="28" fill="#c0c0c0"/>
<rect x="515" y="630" width="1" height="29" fill="#c0c0c0"/>
<rect x="523" y="630" width="1" height="30" fill="#c0c0c0"/>
<rect x="531" y="630" width="1" height="30" fill="#c0c0c0"/>
<rect x="539" y="630" width="1" height="29" fill="#c0c0c0"/>
<rect x="547" y="630" width="1" height="27" fill="#c0c0c0"/>
<rect x="555" y="630" width="1" height="27" fill="#c0c0c0"/>
<rect x="563" y="630" width="1" height="22" fill="#c0c0c0"/>
<rect x="571" y="630" width="1" height="19" fill="#c0c0c0"/>
<rect x="579" y="630" width="1" height="16" fill="#c0c0c0"/>
<rect x="587" y="630" width="1" height="19" fill="#c0c0c0"/>
<rect x="595" y="630" width="1" height="20" fill="#c0c0c0"/>
<rect x="603" y="630" width="1" height="20" fill="#c0c0c0"/>
<rect x="611" y="630" width="1" height="20" fill="#c0c0c0"/>
<rect x="619" y="630" width="1" height="26" fill="#c0c0c0"/>
<rect x="627" y="630" width="1" height="30" fill="#c0c0c0"/>
<rect x="635" y="630" width="1" height="34" fill="#c0c0c0"/>
<rect x="643" y="630" width="1" height="38" fill="#c0c0c0"/>
<rect x="651" y="630" width="1" height="39" fill="#c0c0c0"/>
<rect x="659" y="630" width="1" height="39" fill="#c0c0c0"/>
<rect x="667" y="630" width="1" height="34" fill="#c0c0c0"/>
<rect x="675" y="630" width="1" height="26" fill="#c0c0c0"/>
<rect x="683" y="630" width="1" height="20" fill="#c0c0c0"/>
<rect x="691" y="630" width="1" height="17" fill="#c0c0c0"/>
<rect x="699" y="630" width="1" height="12" fill="#c0c0c0"/>
<rect x="707" y="630" width="1" height="11" fill="#c0c0c0"/>
<rect x="715" y="630" width="1" height="9" fill="#c0c0c0"/>
<rect x="723" y="630" width="1" height="6" fill="#c0c0c0"/>
<rect x="731" y="630" width="1" height="5" fill="#c0c0c0"/>
<rect x="739" y="630" width="1" height="5" fill="#c0c0c0"/>
<rect x="747" y="630" width="1" height="5" fill="#c0c0c0"/>
<rect x="755" y="630" width="1" height="7" fill="#c0c0c0"/>
<rect x="763" y="630" width="1" height="8" fill="#c0c0c0"/>
<rect x="771" y="630" width="1" height="7" fill="#c0c0c0"/>
<rect x="779" y="630" width="1" height="12" fill="#c0c0c0"/>
<rect x="787" y="630" width="1" height="15" fill="#c0c0c0"/>
<rect x="795" y="630" width="1" height="15" fill="#c0c0c0"/>
<rect x="803" y="630" width="1" height="15" fill="#c0c0c0"/>
<rect x="811" y="630" width="1" height="17" fill="#c0c0c0"/>
<rect x="819" y="630" width="1" height="16" fill="#c0c0c0"/>
<rect x="827" y="630" width="1" height="10" fill="#c0c0c0"/>
<rect x="835" y="630" width="1" height="5" fill="#c0c0c0"/>
<rect x="843" y="630" width="1" height="1" fill="#c0c0c0"/>
<rect x="851" y="626" width="1" height="5" fill="#c0c0c0"/>
<rect x="859" y="617" width="1" height="14" fill="#c0c0c0"/>
<rect x="867" y="611" width="1" height="20" fill="#c0c0c0"/>
<rect x="875" y="607" width="1" height="24" fill="#c0c0c0"/>
<rect x="883" y="604" width="1" height="27" fill="#c0c0c0"/>
<rect x="891" y="604" width="1" height="27" fill="#c0c0c0"/>
<rect x="899" y="605" width="1" height="26" fill="#c0c0c0"/>
<rect x="907" y="609" width="1" height="22" fill="#c0c0c0"/>
<rect x="915" y="611" width="1" height="20" fill="#c0c0c0"/>
<rect x="923" y="613" width="1" height="18" fill="#c0c0c0"/>
<rect x="931" y="614" width="1" height="17" fill="#c0c0c0"/>
<rect x="939" y="615" width="1" height="16" fill="#c0c0c0"/>
<rect x="947" y="617" width="1" height="14" fill="#c0c0c0"/>
<rect x="955" y="620" width="1" height="11" fill="#c0c0c0"/>
<rect x="963" y="619" width="1" height="12" fill="#c0c0c0"/>
<rect x="971" y="617" width="1" height="14" fill="#c0c0c0"/>
<rect x="979" y="614" width="1" height="17" fill="#c0c0c0"/>
<rect x="987" y="615" width="1" height="16" fill="#c0c0c0"/>
<rect x="995" y="614" width="1" height="17" fill="#c0c0c0"/>
<rect x="1003" y="614" width="1" height="17" fill="#c0c0c0"/>
<rect x="1011" y="612" width="1" height="19" fill="#c0c0c0"/>
<rect x="1019" y="615" width="1" height="16" fill="#c0c0c0"/>
<rect x="1027" y="618" width="1" height="13" fill="#c0c0c0"/>
<rect x="1035" y="621" width="1" height="10" fill="#c0c0c0"/>
<rect x="1043" y="623" width="1" height="8" fill="#c0c0c0"/>
<rect x="1051" y="625" width="1" height="6" fill="#c0c0c0"/>
<rect x="1059" y="625" width="1" height="6" fill="#c0c0c0"/>
<rect x="1067" y="624" width="1" height="7" fill="#c0c0c0"/>
<rect x="1075" y="624" width="1" height="7" fill="#c0c0c0"/>
<rect x="1083" y="627" width="1" height="4" fill="#c0c0c0"/>
<rect x="1091" y="629" width="1" height="2" fill="#c0c0c0"/>
<rect x="1099" y="630" width="1" height="1" fill="#c0c0c0"/>
<rect x="1107" y="629" width="1" height="2" fill="#c0c0c0"/>
<rect x="1115" y="628" width="1" height="3" fill="#c0c0c0"/>
<path d="M3 612h1v1h-1z M4 612h1v1h-1z M5 612h1v1h-1z M9 612h1v1h-1z M10 612h1v1h-1z M11 612h1v1h-1z M15 612h1v1h-1z M16 612h1v1h-1z M17 612h1v1h-1z M21 611h1v1h-1z M22 611h1v1h-1z M23 611h1v1h-1z M27 611h1v1h-1z M28 611h1v1h-1z M29 611h1v1h-1z M33 611h1v1h-1z M34 611h1v1h-1z M35 611h1v1h-1z M39 611h1v1h-1z M40 611h1v1h-1z M41 611h1v1h-1z M45 611h1v1h-1z M46 611h1v1h-1z M47 612h1v1h-1z M51 612h1v1h-1z M52 612h1v1h-1z M53 612h1v1h-1z M57 612h1v1h-1z M58 612h1v1h-1z M59 612h1v1h-1z M63 612h1v1h-1z M64 612h1v1h-1z M65 612h1v1h-1z M69 611h1v1h-1z M70 611h1v1h-1z M71 611h1v1h-1z M75 610h1v1h-1z M76 610h1v1h-1z M77 610h1v1h-1z M81 610h1v1h-1z M82 610h1v1h-1z M83 610h1v1h-1z M87 609h1v1h-1z M88 609h1v1h-1z M89 609h1v1h-1z M93 609h1v1h-1z M94 609h1v1h-1z M95 608h1v1h-1z M99 608h1v1h-1z M100 608h1v1h-1z M101 608h1v1h-1z M105 608h1v1h-1z M106 607h1v1h-1z M107 607h1v1h-1z M111 607h1v1h-1z M112 607h1v1h-1z M113 607h1v1h-1z M117 607h1v1h-1z M118 607h1v1h-1z M119 607h1v1h-1z M123 607h1v1h-1z M124 606h1v1h-1z M125 606h1v1h-1z M129 606h1v1h-1z M130 606h1v1h-1z M131 606h1v1h-1z M135 606h1v1h-1z M136 606h1v1h-1z M137 606h1v1h-1z M141 606h1v1h-1z M142 606h1v1h-1z M143 606h1v1h-1z M147 606h1v1h-1z M148 607h1v1h-1z M149 607h1v1h-1z M153 607h1v1h-1z M154 607h1v1h-1z M155 607h1v1h-1z M159 608h1v1h-1z M160 608h1v1h-1z M161 608h1v1h-1z M165 608h1v1h-1z M166 608h1v1h-1z M167 608h1v1h-1z M171 608h1v1h-1z M172 608h1v1h-1z M173 608h1v1h-1z M177 608h1v1h-1z M178 608h1v1h-1z M179 608h1v1h-1z M183 608h1v1h-1z M184 608h1v1h-1z M185 608h1v1h-1z M189 607h1v1h-1z M190 607h1v1h-1z M191 607h1v1h-1z M195 607h1v1h-1z M196 607h1v1h-1z M197 607h1v1h-1z M201 607h1v1h-1z M202 607h1v1h-1z M203 607h1v1h-1z M207 607h1v1h-1z M208 607h1v1h-1z M209 607h1v1h-1z M213 607h1v1h-1z M214 607h1v1h-1z M215 607h1v1h-1z M219 607h1v1h-1z M220 607h1v1h-1z M221 607h1v1h-1z M225 607h1v1h-1z M226 607h1v1h-1z M227 607h1v1h-1z M231 607h1v1h-1z M232 607h1v1h-1z M233 606h1v1h-1z M237 606h1v1h-1z M238 606h1v1h-1z M239 606h1v1h-1z M243 606h1v1h-1z M244 606h1v1h-1z M245 606h1v1h-1z M249 606h1v1h-1z M250 606h1v1h-1z M251 606h1v1h-1z M255 606h1v1h-1z M256 606h1v1h-1z M257 606h1v1h-1z M261 606h1v1h-1z M262 606h1v1h-1z M263 606h1v1h-1z M267 606h1v1h-1z M268 606h1v1h-1z M269 605h1v1h-1z M273 605h1v1h-1z M274 605h1v1h-1z M275 605h1v1h-1z M279 605h1v1h-1z M280 605h1v1h-1z M281 605h1v1h-1z M285 604h1v1h-1z M286 604h1v1h-1z M287 604h1v1h-1z M291 604h1v1h-1z M292 604h1v1h-1z M293 604h1v1h-1z M297 603h1v1h-1z M298 603h1v1h-1z M299 603h1v1h-1z M303 603h1v1h-1z M304 603h1v1h-1z M305 602h1v1h-1z M309 602h1v1h-1z M310 602h1v1h-1z M311 602h1v1h-1z M315 602h1v1h-1z M316 602h1v1h-1z M317 602h1v1h-1z M321 602h1v1h-1z M322 601h1v1h-1z M323 601h1v1h-1z M327 601h1v1h-1z M328 601h1v1h-1z M329 601h1v1h-1z M333 600h1v1h-1z M334 600h1v1h-1z M335 600h1v1h-1z M339 599h1v1h-1z M340 599h1v1h-1z M341 599h1v1h-1z M345 598h1v1h-1z M346 598h1v1h-1z M347 598h1v1h-1z M351 597h1v1h-1z M352 597h1v1h-1z M353 596h1v1h-1z M357 595h1v1h-1z M358 595h1v1h-1z M359 595h1v1h-1z M363 593h1v1h-1z M364 593h1v1h-1z M365 593h1v1h-1z M369 591h1v1h-1z M370 591h1v1h-1z M371 591h1v1h-1z M375 590h1v1h-1z M376 589h1v1h-1z M377 589h1v1h-1z M381 588h1v1h-1z M382 588h1v1h-1z M383 588h1v1h-1z M387 586h1v1h-1z M388 586h1v1h-1z M389 586h1v1h-1z M393 584h1v1h-1z M394 584h1v1h-1z M395 583h1v1h-1z M399 582h1v1h-1z M400 582h1v1h-1z M401 581h1v1h-1z M405 580h1v1h-1z M406 580h1v1h-1z M407 580h1v1h-1z M411 579h1v1h-1z M412 578h1v1h-1z M413 578h1v1h-1z M417 578h1v1h-1z M418 578h1v1h-1z M419 578h1v1h-1z M423 578h1v1h-1z M424 578h1v1h-1z M425 578h1v1h-1z M429 578h1v1h-1z M430 578h1v1h-1z M431 578h1v1h-1z M435 578h1v1h-1z M436 579h1v1h-1z M437 579h1v1h-1z M441 580h1v1h-1z M442 580h1v1h-1z M443 581h1v1h-1z M447 582h1v1h-1z M448 583h1v1h-1z M449 583h1v1h-1z M453 585h1v1h-1z M454 586h1v1h-1z M455 586h1v1h-1z M459 589h1v1h-1z M460 590h1v1h-1z M461 591h1v1h-1z M465 594h1v1h-1z M466 595h1v1h-1z M467 595h1v1h-1z M471 599h1v1h-1z M472 600h1v1h-1z M473 601h1v1h-1z M477 605h1v1h-1z M478 606h1v1h-1z M479 607h1v1h-1z M483 611h1v1h-1z M484 612h1v1h-1z M485 613h1v1h-1z M489 617h1v1h-1z M490 618h1v1h-1z M491 619h1v1h-1z M495 624h1v1h-1z M496 625h1v1h-1z M497 626h1v1h-1z M501 630h1v1h-1z M502 631h1v1h-1z M503 632h1v1h-1z M507 636h1v1h-1z M508 636h1v1h-1z M509 637h1v1h-1z M513 641h1v1h-1z M514 641h1v1h-1z M515 642h1v1h-1z M519 645h1v1h-1z M520 646h1v1h-1z M521 646h1v1h-1z M525 649h1v1h-1z M526 650h1v1h-1z M527 650h1v1h-1z M531 652h1v1h-1z M532 653h1v1h-1z M533 653h1v1h-1z M537 655h1v1h-1z M538 655h1v1h-1z M539 655h1v1h-1z M543 656h1v1h-1z M544 656h1v1h-1z M545 656h1v1h-1z M549 657h1v1h-1z M550 657h1v1h-1z M551 657h1v1h-1z M555 658h1v1h-1z M556 658h1v1h-1z M557 658h1v1h-1z M561 658h1v1h-1z M562 658h1v1h-1z M563 658h1v1h-1z M567 657h1v1h-1z M568 657h1v1h-1z M569 657h1v1h-1z M573 657h1v1h-1z M574 656h1v1h-1z M575 656h1v1h-1z M579 656h1v1h-1z M580 656h1v1h-1z M581 655h1v1h-1z M585 655h1v1h-1z M586 655h1v1h-1z M587 655h1v1h-1z M591 654h1v1h-1z M592 654h1v1h-1z M593 654h1v1h-1z M597 653h1v1h-1z M598 653h1v1h-1z M599 653h1v1h-1z M603 652h1v1h-1z M604 652h1v1h-1z M605 652h1v1h-1z M609 652h1v1h-1z M610 652h1v1h-1z M611 651h1v1h-1z M615 651h1v1h-1z M616 651h1v1h-1z M617 651h1v1h-1z M621 651h1v1h-1z M622 651h1v1h-1z M623 651h1v1h-1z M627 651h1v1h-1z M628 651h1v1h-1z M629 651h1v1h-1z M633 652h1v1h-1z M634 652h1v1h-1z M635 652h1v1h-1z M639 653h1v1h-1z M640 654h1v1h-1z M641 654h1v1h-1z M645 655h1v1h-1z M646 655h1v1h-1z M647 656h1v1h-1z M651 657h1v1h-1z M652 657h1v1h-1z M653 658h1v1h-1z M657 659h1v1h-1z M658 659h1v1h-1z M659 659h1v1h-1z M663 660h1v1h-1z M664 660h1v1h-1z M665 661h1v1h-1z M669 661h1v1h-1z M670 661h1v1h-1z M671 662h1v1h-1z M675 662h1v1h-1z M676 662h1v1h-1z M677 662h1v1h-1z M681 662h1v1h-1z M682 662h1v1h-1z M683 662h1v1h-1z M687 662h1v1h-1z M688 662h1v1h-1z M689 661h1v1h-1z M693 661h1v1h-1z M694 660h1v1h-1z M695 660h1v1h-1z M699 659h1v1h-1z M700 659h1v1h-1z M701 659h1v1h-1z M705 657h1v1h-1z M706 657h1v1h-1z M707 656h1v1h-1z M711 654h1v1h-1z M712 654h1v1h-1z M713 654h1v1h-1z M717 651h1v1h-1z M718 651h1v1h-1z M719 650h1v1h-1z M723 648h1v1h-1z M724 648h1v1h-1z M725 647h1v1h-1z M729 645h1v1h-1z M730 645h1v1h-1z M731 644h1v1h-1z M735 643h1v1h-1z M736 642h1v1h-1z M737 642h1v1h-1z M741 641h1v1h-1z M742 640h1v1h-1z M743 640h1v1h-1z M747 639h1v1h-1z M748 639h1v1h-1z M749 639h1v1h-1z M753 638h1v1h-1z M754 638h1v1h-1z M755 638h1v1h-1z M759 638h1v1h-1z M760 638h1v1h-1z M761 638h1v1h-1z M765 637h1v1h-1z M766 637h1v1h-1z M767 637h1v1h-1z M771 637h1v1h-1z M772 637h1v1h-1z M773 637h1v1h-1z M777 637h1v1h-1z M778 637h1v1h-1z M779 637h1v1h-1z M783 638h1v1h-1z M784 638h1v1h-1z M785 638h1v1h-1z M789 638h1v1h-1z M790 639h1v1h-1z M791 639h1v1h-1z M795 639h1v1h-1z M796 639h1v1h-1z M797 639h1v1h-1z M801 640h1v1h-1z M802 640h1v1h-1z M803 640h1v1h-1z M807 641h1v1h-1z M808 641h1v1h-1z M809 641h1v1h-1z M813 642h1v1h-1z M814 642h1v1h-1z M815 642h1v1h-1z M819 643h1v1h-1z M820 643h1v1h-1z M821 643h1v1h-1z M825 643h1v1h-1z M826 643h1v1h-1z M827 643h1v1h-1z M831 643h1v1h-1z M832 643h1v1h-1z M833 643h1v1h-1z M837 642h1v1h-1z M838 642h1v1h-1z M839 642h1v1h-1z M843 642h1v1h-1z M844 641h1v1h-1z M845 641h1v1h-1z M849 640h1v1h-1z M850 640h1v1h-1z M851 639h1v1h-1z M855 638h1v1h-1z M856 637h1v1h-1z M857 637h1v1h-1z M861 635h1v1h-1z M862 634h1v1h-1z M863 634h1v1h-1z M867 632h1v1h-1z M868 631h1v1h-1z M869 631h1v1h-1z M873 629h1v1h-1z M874 628h1v1h-1z M875 628h1v1h-1z M879 625h1v1h-1z M880 624h1v1h-1z M881 624h1v1h-1z M885 621h1v1h-1z M886 621h1v1h-1z M887 620h1v1h-1z M891 618h1v1h-1z M892 617h1v1h-1z M893 617h1v1h-1z M897 615h1v1h-1z M898 614h1v1h-1z M899 613h1v1h-1z M903 612h1v1h-1z M904 612h1v1h-1z M905 611h1v1h-1z M909 610h1v1h-1z M910 610h1v1h-1z M911 610h1v1h-1z M915 609h1v1h-1z M916 609h1v1h-1z M917 609h1v1h-1z M921 608h1v1h-1z M922 608h1v1h-1z M923 608h1v1h-1z M927 608h1v1h-1z M928 608h1v1h-1z M929 608h1v1h-1z M933 608h1v1h-1z M934 608h1v1h-1z M935 608h1v1h-1z M939 608h1v1h-1z M940 609h1v1h-1z M941 609h1v1h-1z M945 609h1v1h-1z M946 610h1v1h-1z M947 610h1v1h-1z M951 611h1v1h-1z M952 611h1v1h-1z M953 611h1v1h-1z M957 612h1v1h-1z M958 612h1v1h-1z M959 613h1v1h-1z M963 613h1v1h-1z M964 613h1v1h-1z M965 614h1v1h-1z M969 614h1v1h-1z M970 614h1v1h-1z M971 614h1v1h-1z M975 615h1v1h-1z M976 615h1v1h-1z M977 615h1v1h-1z M981 615h1v1h-1z M982 615h1v1h-1z M983 615h1v1h-1z M987 615h1v1h-1z M988 615h1v1h-1z M989 615h1v1h-1z M993 615h1v1h-1z M994 615h1v1h-1z M995 615h1v1h-1z M999 615h1v1h-1z M1000 615h1v1h-1z M1001 615h1v1h-1z M1005 615h1v1h-1z M1006 615h1v1h-1z M1007 615h1v1h-1z M1011 615h1v1h-1z M1012 615h1v1h-1z M1013 615h1v1h-1z M1017 615h1v1h-1z M1018 615h1v1h-1z M1019 614h1v1h-1z M1023 614h1v1h-1z M1024 614h1v1h-1z M1025 614h1v1h-1z M1029 614h1v1h-1z M1030 614h1v1h-1z M1031 614h1v1h-1z M1035 614h1v1h-1z M1036 614h1v1h-1z M1037 614h1v1h-1z M1041 615h1v1h-1z M1042 615h1v1h-1z M1043 615h1v1h-1z M1047 616h1v1h-1z M1048 616h1v1h-1z M1049 616h1v1h-1z M1053 617h1v1h-1z M1054 617h1v1h-1z M1055 617h1v1h-1z M1059 618h1v1h-1z M1060 618h1v1h-1z M1061 618h1v1h-1z M1065 619h1v1h-1z M1066 619h1v1h-1z M1067 619h1v1h-1z M1071 620h1v1h-1z M1072 620h1v1h-1z M1073 620h1v1h-1z M1077 620h1v1h-1z M1078 620h1v1h-1z M1079 621h1v1h-1z M1083 621h1v1h-1z M1084 621h1v1h-1z M1085 622h1v1h-1z M1089 622h1v1h-1z M1090 622h1v1h-1z M1091 623h1v1h-1z M1095 623h1v1h-1z M1096 624h1v1h-1z M1097 624h1v1h-1z M1101 624h1v1h-1z M1102 625h1v1h-1z M1103 625h1v1h-1z M1107 625h1v1h-1z M1108 625h1v1h-1z M1109 625h1v1h-1z M1113 626h1v1h-1z M1114 626h1v1h-1z M1115 626h1v1h-1z" fill="#ff0000"/>
<text x="7.3" y="583.4" font-size="10.5" fill="#000" font-weight="normal" text-anchor="start" textLength="147.5" lengthAdjust="spacingAndGlyphs" stroke="#000" stroke-width="0.12">MACD(12,26,9) 0.000546 0.000808</text>
<rect x="1419" y="572" width="1" height="1" fill="#000"/>
<text x="1422" y="581" font-size="9.2" fill="#000" font-weight="normal" text-anchor="start" textLength="37.5" lengthAdjust="spacingAndGlyphs" stroke="#000" stroke-width="0.25">0.010229</text>
<rect x="1419" y="630" width="1" height="1" fill="#000"/>
<text x="1422" y="634" font-size="9.2" fill="#000" font-weight="normal" text-anchor="start" textLength="18.5" lengthAdjust="spacingAndGlyphs" stroke="#000" stroke-width="0.25">0.00</text>
<text x="1421.8" y="671" font-size="9.2" fill="#000" font-weight="normal" text-anchor="start" textLength="41" lengthAdjust="spacingAndGlyphs" stroke="#000" stroke-width="0.25">-0.007477</text>
<line x1="4" y1="716.5" x2="1417" y2="716.5" stroke="#c0c0c0" stroke-width="1" stroke-dasharray="3,3"/>
<line x1="4" y1="767.5" x2="1417" y2="767.5" stroke="#c0c0c0" stroke-width="1" stroke-dasharray="3,3"/>
<polyline points="3.5,736.5 11.5,733.5 19.5,735.5 27.5,734.5 35.5,733.5 43.5,733.5 51.5,729.5 59.5,721.5 67.5,724.5 75.5,719.5 83.5,723.5 91.5,720.5 99.5,734.5 107.5,736.5 115.5,739.5 123.5,735.5 131.5,720.5 139.5,732.5 147.5,737.5 155.5,733.5 163.5,733.5 171.5,729.5 179.5,726.5 187.5,729.5 195.5,729.5 203.5,728.5 211.5,735.5 219.5,742.5 227.5,735.5 235.5,724.5 243.5,722.5 251.5,736.5 259.5,732.5 267.5,726.5 275.5,730.5 283.5,731.5 291.5,732.5 299.5,730.5 307.5,729.5 323.5,722.5 339.5,718.5 347.5,711.5 355.5,711.5 363.5,713.5 371.5,713.5 379.5,716.5 387.5,712.5 395.5,710.5 403.5,713.5 411.5,714.5 419.5,713.5 427.5,713.5 435.5,741.5 443.5,752.5 451.5,756.5 459.5,761.5 467.5,766.5 475.5,769.5 483.5,764.5 491.5,759.5 507.5,758.5 515.5,759.5 523.5,760.5 531.5,755.5 539.5,757.5 547.5,755.5 555.5,750.5 563.5,740.5 571.5,743.5 579.5,741.5 587.5,758.5 595.5,759.5 603.5,751.5 611.5,750.5 619.5,763.5 627.5,765.5 635.5,768.5 643.5,766.5 651.5,763.5 659.5,761.5 667.5,747.5 675.5,734.5 683.5,739.5 691.5,738.5 699.5,735.5 707.5,745.5 715.5,740.5 723.5,737.5 731.5,742.5 739.5,744.5 747.5,744.5 755.5,747.5 763.5,752.5 771.5,744.5 779.5,754.5 787.5,754.5 795.5,747.5 803.5,751.5 811.5,751.5 819.5,748.5 827.5,732.5 835.5,734.5 843.5,732.5 851.5,726.5 859.5,720.5 867.5,720.5 875.5,725.5 883.5,724.5 891.5,728.5 899.5,735.5 907.5,741.5 915.5,738.5 923.5,736.5 939.5,736.5 947.5,738.5 955.5,745.5 963.5,732.5 971.5,728.5 979.5,727.5 987.5,731.5 995.5,735.5 1003.5,730.5 1011.5,728.5 1019.5,741.5 1027.5,741.5 1035.5,746.5 1043.5,742.5 1051.5,742.5 1059.5,739.5 1067.5,735.5 1075.5,738.5 1083.5,747.5 1091.5,745.5 1099.5,746.5 1107.5,737.5 1115.5,737.5" fill="none" stroke="#1e90ff" stroke-width="1"/>
<text x="7.3" y="689" font-size="10.5" fill="#000" font-weight="normal" text-anchor="start" textLength="67.5" lengthAdjust="spacingAndGlyphs" stroke="#000" stroke-width="0.12">RSI(14) 53.5238</text>
<text x="1422" y="687.5" font-size="9.2" fill="#000" font-weight="normal" text-anchor="start" textLength="14" lengthAdjust="spacingAndGlyphs" stroke="#000" stroke-width="0.25">100</text>
<text x="1421.5" y="720.5" font-size="9.2" fill="#000" font-weight="normal" text-anchor="start" textLength="9.5" lengthAdjust="spacingAndGlyphs" stroke="#000" stroke-width="0.25">70</text>
<text x="1421.5" y="771" font-size="9.2" fill="#000" font-weight="normal" text-anchor="start" textLength="9.5" lengthAdjust="spacingAndGlyphs" stroke="#000" stroke-width="0.25">30</text>
<text x="1422" y="803" font-size="9.2" fill="#000" font-weight="normal" text-anchor="start" textLength="4.8" lengthAdjust="spacingAndGlyphs" stroke="#000" stroke-width="0.25">0</text>
<rect x="3" y="807" width="1" height="3" fill="#000"/>
<text x="1.9000000000000001" y="819" font-size="9.6" fill="#000" font-weight="normal" text-anchor="start" textLength="48.8" lengthAdjust="spacingAndGlyphs" stroke="#000" stroke-width="0.25">1 Nov 2018</text>
<rect x="67" y="807" width="1" height="3" fill="#000"/>
<text x="66.5" y="819" font-size="9.6" fill="#000" font-weight="normal" text-anchor="start" textLength="53.0" lengthAdjust="spacingAndGlyphs" stroke="#000" stroke-width="0.25">11 Nov 2018</text>
<rect x="131" y="807" width="1" height="3" fill="#000"/>
<text x="130.0" y="819" font-size="9.6" fill="#000" font-weight="normal" text-anchor="start" textLength="53.8" lengthAdjust="spacingAndGlyphs" stroke="#000" stroke-width="0.25">20 Nov 2018</text>
<rect x="195" y="807" width="1" height="3" fill="#000"/>
<text x="194.1" y="819" font-size="9.6" fill="#000" font-weight="normal" text-anchor="start" textLength="53.8" lengthAdjust="spacingAndGlyphs" stroke="#000" stroke-width="0.25">29 Nov 2018</text>
<rect x="259" y="807" width="1" height="3" fill="#000"/>
<text x="258.2" y="819" font-size="9.6" fill="#000" font-weight="normal" text-anchor="start" textLength="46.7" lengthAdjust="spacingAndGlyphs" stroke="#000" stroke-width="0.25">9 Dec 2018</text>
<rect x="323" y="807" width="1" height="3" fill="#000"/>
<text x="322.8" y="819" font-size="9.6" fill="#000" font-weight="normal" text-anchor="start" textLength="51.1" lengthAdjust="spacingAndGlyphs" stroke="#000" stroke-width="0.25">18 Dec 2018</text>
<rect x="387" y="807" width="1" height="3" fill="#000"/>
<text x="385.7" y="819" font-size="9.6" fill="#000" font-weight="normal" text-anchor="start" textLength="52.4" lengthAdjust="spacingAndGlyphs" stroke="#000" stroke-width="0.25">27 Dec 2018</text>
<rect x="451" y="807" width="1" height="3" fill="#000"/>
<text x="450.0" y="819" font-size="9.6" fill="#000" font-weight="normal" text-anchor="start" textLength="44.3" lengthAdjust="spacingAndGlyphs" stroke="#000" stroke-width="0.25">6 Jan 2019</text>
<rect x="515" y="807" width="1" height="3" fill="#000"/>
<text x="514.1" y="819" font-size="9.6" fill="#000" font-weight="normal" text-anchor="start" textLength="50.2" lengthAdjust="spacingAndGlyphs" stroke="#000" stroke-width="0.25">15 Jan 2019</text>
<rect x="579" y="807" width="1" height="3" fill="#000"/>
<text x="578.2" y="819" font-size="9.6" fill="#000" font-weight="normal" text-anchor="start" textLength="49.7" lengthAdjust="spacingAndGlyphs" stroke="#000" stroke-width="0.25">24 Jan 2019</text>
<rect x="643" y="807" width="1" height="3" fill="#000"/>
<text x="642.3000000000001" y="819" font-size="9.6" fill="#000" font-weight="normal" text-anchor="start" textLength="46.7" lengthAdjust="spacingAndGlyphs" stroke="#000" stroke-width="0.25">3 Feb 2019</text>
<rect x="707" y="807" width="1" height="3" fill="#000"/>
<text x="706.4000000000001" y="819" font-size="9.6" fill="#000" font-weight="normal" text-anchor="start" textLength="51.5" lengthAdjust="spacingAndGlyphs" stroke="#000" stroke-width="0.25">12 Feb 2019</text>
<rect x="771" y="807" width="1" height="3" fill="#000"/>
<text x="770.1" y="819" font-size="9.6" fill="#000" font-weight="normal" text-anchor="start" textLength="51.5" lengthAdjust="spacingAndGlyphs" stroke="#000" stroke-width="0.25">21 Feb 2019</text>
<rect x="835" y="807" width="1" height="3" fill="#000"/>
<text x="834.1" y="819" font-size="9.6" fill="#000" font-weight="normal" text-anchor="start" textLength="47.0" lengthAdjust="spacingAndGlyphs" stroke="#000" stroke-width="0.25">3 Mar 2019</text>
<rect x="899" y="807" width="1" height="3" fill="#000"/>
<text x="898.2" y="819" font-size="9.6" fill="#000" font-weight="normal" text-anchor="start" textLength="51.6" lengthAdjust="spacingAndGlyphs" stroke="#000" stroke-width="0.25">12 Mar 2019</text>
<rect x="963" y="807" width="1" height="3" fill="#000"/>
<text x="962.3000000000001" y="819" font-size="9.6" fill="#000" font-weight="normal" text-anchor="start" textLength="51.6" lengthAdjust="spacingAndGlyphs" stroke="#000" stroke-width="0.25">21 Mar 2019</text>
<rect x="1027" y="807" width="1" height="3" fill="#000"/>
<text x="1026.4" y="819" font-size="9.6" fill="#000" font-weight="normal" text-anchor="start" textLength="51.6" lengthAdjust="spacingAndGlyphs" stroke="#000" stroke-width="0.25">31 Mar 2019</text>
<rect x="1091" y="807" width="1" height="3" fill="#000"/>
<text x="1090.4" y="819" font-size="9.6" fill="#000" font-weight="normal" text-anchor="start" textLength="45.6" lengthAdjust="spacingAndGlyphs" stroke="#000" stroke-width="0.25">9 Apr 2019</text>
<rect x="0" y="827" width="1464" height="1" fill="#e6e6e6"/>
<rect x="0" y="828" width="1464" height="1" fill="#ffffff"/>
<rect x="0" y="829" width="1466" height="1" fill="#000"/>
<rect x="0" y="830" width="1464" height="1" fill="#ffffff"/>
<rect x="0" y="831" width="1464" height="18" fill="#f0f0f0"/>
<rect x="0" y="849" width="1464" height="1" fill="#f8f8f8"/>
<rect x="328" y="829" width="108" height="19" fill="#ffffff"/>
<rect x="328" y="829" width="1" height="19" fill="#000"/>
<rect x="435" y="829" width="1" height="19" fill="#000"/>
<rect x="328" y="847" width="108" height="1" fill="#000"/>
<rect x="329" y="829" width="106" height="1" fill="#ffffff"/>
<text x="15" y="843.5" font-size="12" fill="#6e6e6e" font-weight="normal" text-anchor="start" textLength="85" lengthAdjust="spacingAndGlyphs">EURUSD-,Daily</text>
<text x="122" y="843.5" font-size="12" fill="#6e6e6e" font-weight="normal" text-anchor="start" textLength="87" lengthAdjust="spacingAndGlyphs">AUDUSD-,Daily</text>
<text x="232.7" y="843.5" font-size="12" fill="#6e6e6e" font-weight="normal" text-anchor="start" textLength="82.8" lengthAdjust="spacingAndGlyphs">USDCHF-,Daily</text>
<text x="339.8" y="843.5" font-size="12" fill="#000" font-weight="normal" text-anchor="start" textLength="85.1" lengthAdjust="spacingAndGlyphs">USDCAD-,Daily</text>
<text x="448.3" y="843.5" font-size="12" fill="#6e6e6e" font-weight="normal" text-anchor="start" textLength="87.3" lengthAdjust="spacingAndGlyphs">USDCNH-,Daily</text>
<rect x="112" y="832" width="1" height="14" fill="#606060"/>
<rect x="221" y="832" width="1" height="14" fill="#606060"/>
<rect x="548" y="832" width="1" height="14" fill="#606060"/>
<polygon points="1438,834 1438,842 1434,838" fill="#a0a0a0" shape-rendering="geometricPrecision"/>
<polygon points="1453,834 1453,842 1457,838" fill="#a0a0a0" shape-rendering="geometricPrecision"/>
<rect x="1419" y="805" width="1" height="1" fill="#000"/>
<rect x="1464" y="26" width="1" height="824" fill="#e4e4e4"/>
<rect x="1465" y="26" width="1" height="824" fill="#ffffff"/>
<rect x="1466" y="0" width="1" height="850" fill="#e3e3e3"/>
<rect x="1464" y="829" width="2" height="1" fill="#000"/></svg></body></html>
